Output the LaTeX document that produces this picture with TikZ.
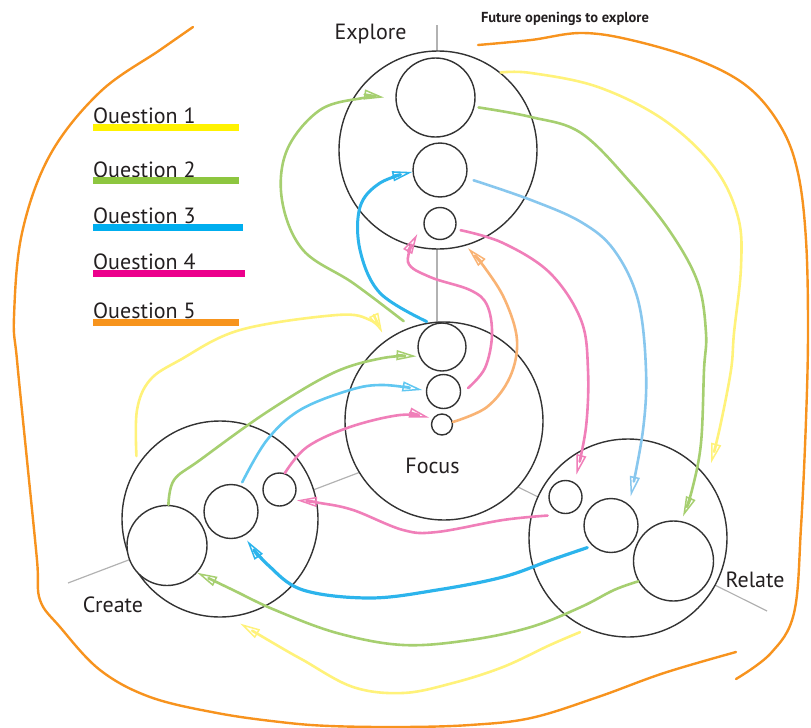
\documentclass[tikz,border=0pt]{standalone}
\usepackage{fontspec}
\setmainfont{PT Sans}
\usetikzlibrary{arrows.meta,calc}
\definecolor{qyel}{HTML}{FFF200}
\definecolor{qgrn}{HTML}{8DC63F}
\definecolor{qblu}{HTML}{00AEEF}
\definecolor{qmag}{HTML}{EC008C}
\definecolor{qora}{HTML}{F7941D}
\definecolor{cyel}{HTML}{FFF27A}
\definecolor{cgrn}{HTML}{A6CF70}
\definecolor{cblu}{HTML}{2CB4EC}
\definecolor{cbll}{HTML}{88C7EE}
\definecolor{cpnk}{HTML}{F07FB9}
\definecolor{cora}{HTML}{F7931E}
\definecolor{corl}{HTML}{F9B374}
\definecolor{txt}{HTML}{231F20}
\begin{document}
\begin{tikzpicture}[x=1pt,y=-1pt,
  ring/.style={circle,draw=black!80,line width=1.4pt,fill=white,inner sep=0pt,minimum size=#1},
  gline/.style={draw=black!30,line width=1.2pt},
  qline/.style={line width=2.6pt,line cap=round,line join=round},
  arr/.style={-{Triangle[open,length=20pt,width=10pt,line width=1.5pt]}},
  lbl/.style={text=txt,font=\fontsize{22}{25}\selectfont,inner sep=0pt},
  qlbl/.style={text=txt,font=\fontsize{22}{25}\selectfont,inner sep=0pt,anchor=base west},
  bar/.style={line width=7pt}]
\useasboundingbox (0,0) rectangle (811,728);

% axes
\coordinate (ax1) at (437,25);
\coordinate (ax2) at (437,360);
\coordinate (ac1) at (68,583);
\coordinate (ac2) at (400,457);
\coordinate (ar1) at (767,611);
\coordinate (ar2) at (500,478);
\draw[gline] (ax1) -- (ax2);
\draw[gline] (ac1) -- (ac2);
\draw[gline] (ar1) -- (ar2);

% circles
\node[ring=198pt] (E) at (438,150) {};
\node[ring=79pt] (E1) at (435.5,97.5) {};
\node[ring=54pt] (E2) at (440,170) {};
\node[ring=32pt] (E3) at (440,223.5) {};
\node[ring=198pt] (F) at (444,421) {};
\node[ring=48pt] (F1) at (442,347) {};
\node[ring=34pt] (F2) at (443.5,391.5) {};
\node[ring=21pt] (F3) at (442,424.5) {};
\node[ring=196pt] (C) at (220,519) {};
\node[ring=80pt] (C1) at (167,545.5) {};
\node[ring=54pt] (C2) at (231,511.5) {};
\node[ring=33pt] (C3) at (279.5,489.5) {};
\node[ring=198pt] (R) at (628,538) {};
\node[ring=33pt] (R3) at (565.5,497) {};
\node[ring=54pt] (R2) at (611,525.5) {};
\node[ring=80pt] (R1) at (673.5,561) {};

% outer orange outline
\draw[qline,cora,line width=2.4pt] plot[smooth,tension=0.6] coordinates {(478,45) (531,40) (581,33) (631,40) (698,60) (748,87) (781,127) (798,173) (806,240) (808,330) (806,420) (801,527) (794,613) (771,653) (736,679)};
\draw[qline,cora,line width=2.4pt] plot[smooth,tension=0.6] coordinates {(736,652) (664,673) (598,697) (531,718) (470,725) (403,727) (330,726) (280,722) (217,713) (150,697) (100,670) (60,627) (40,600) (37,560) (27,460) (17,360) (14,317) (22,233) (50,155) (100,92) (160,50) (193,27)};

% Question 1 (yellow)
\draw[qline,cyel,arr] plot[smooth,tension=0.6] coordinates {(E.51) (531,73) (598,87) (664,120) (714,167) (738,217) (741,267) (734,333) (731,370) (720,427) ($(R.center)!1.12!(R.42)$)};
\draw[qline,cyel,arr] plot[smooth,tension=0.6] coordinates {($(C.center)!1.06!(C.143)$) (137,410) (150,380) (180,360) (240,330) (337,315) (370,320) ($(F.center)!1.08!(F.125)$)};
\draw[qline,cyel,arr] plot[smooth,tension=0.6] coordinates {($(R.center)!1.06!(R.243)$) (550,645) (503,667) (453,683) (403,693) (353,687) (303,660) (280,647) ($(C.center)!1.08!(C.-79)$)};

% Question 2 (green)
\draw[qline,cgrn,arr] plot[smooth,tension=0.6] coordinates {($(E1.center)!1.1!(E1.-13)$) (531,117) (581,133) (631,183) (671,233) (698,283) (706,333) (704,370) (701,443) (692,490) ($(R1.center)!1.12!(R1.78)$)};
\draw[qline,cgrn,arr] plot[smooth,tension=0.6] coordinates {($(F.center)!1.08!(F.112)$) (353,283) (303,250) (282,200) (287,150) (320,110) (363,98) ($(E1.center)!1.28!(E1.180)$)};
\draw[qline,cgrn,arr] plot[smooth,tension=0.6] coordinates {(C1.88) (174,480) (200,460) (267,412) (333,373) (383,358) ($(F1.center)!1.1!(F1.200)$)};
\draw[qline,cgrn,arr] plot[smooth,tension=0.6] coordinates {(R1.210) (614,590) (581,607) (531,627) (470,640) (403,645) (337,633) (275,610) (233,590) (C1.-42)};

% Question 3 (blue)
\draw[qline,cbll,arr] plot[smooth,tension=0.6] coordinates {($(E2.center)!1.27!(E2.-17)$) (531,200) (581,222) (614,250) (638,300) (646,370) (643,430) ($(R2.center)!1.27!(R2.56)$)};
\draw[qline,cblu,arr,line width=3pt] plot[smooth,tension=0.6] coordinates {($(F1.center)!1.2!(F1.121)$) (380,293) (360,250) (360,207) (380,183) (E2.184)};
\draw[qline,cblu!75,arr] plot[smooth,tension=0.6] coordinates {($(C2.center)!1.13!(C2.69)$) (267,440) (300,410) (350,390) (383,385) ($(F2.center)!1.2!(F2.176)$)};
\draw[qline,cblu,arr,line width=3.2pt] plot[smooth,tension=0.6] coordinates {($(R2.center)!1.17!(R2.223)$) (551,560) (503,577) (437,590) (370,598) (303,590) (268,565) ($(C2.center)!1.2!(C2.-61)$)};

% Question 4 (pink)
\draw[qline,cpnk,arr] plot[smooth,tension=0.6] coordinates {($(E3.center)!1.3!(E3.-18)$) (503,243) (550,273) (581,320) (588,370) (586,427) ($(R3.center)!1.45!(R3.64)$)};
\draw[qline,cpnk,arr] plot[smooth,tension=0.6] coordinates {($(F2.center)!1.4!(F2.8)$) (485,368) (492,335) (487,305) (470,290) (430,277) (408,262) ($(E3.center)!1.5!(E3.205)$)};
\draw[qline,cpnk,arr] plot[smooth,tension=0.6] coordinates {(C3.72) (307,447) (350,427) (400,415) ($(F3.center)!1.3!(F3.152)$)};
\draw[qline,cpnk,arr] plot[smooth,tension=0.6] coordinates {($(R3.center)!1.5!(R3.226)$) (503,520) (437,532) (403,530) (353,510) (320,503) ($(C3.center)!1.19!(C3.-32)$)};

% Question 5 (orange)
\draw[qline,corl,arr] plot[smooth,tension=0.6] coordinates {(F3.13) (487,407) (510,377) (517,340) (505,300) (485,268) ($(E.center)!1.03!(E.-73)$)};

% legend
\node[qlbl] (q1) at (93,123) {Question 1};
\node[qlbl] (q2) at (93,177) {Question 2};
\node[qlbl] (q3) at (93,223) {Question 3};
\node[qlbl] (q4) at (93,269) {Question 4};
\node[qlbl] (q5) at (93,318) {Question 5};
\draw[bar,qyel] (93,127) -- (239,127);
\draw[bar,qgrn] (93,180.5) -- (239,180.5);
\draw[bar,qblu] (93,227) -- (243,227);
\draw[bar,qmag] (93,273) -- (245,273);
\draw[bar,qora] (93,322) -- (239,322);

% labels
\node[lbl,anchor=base] (lE) at (370.5,39) {Explore};
\node[lbl,anchor=base] (lF) at (432.5,473) {Focus};
\node[lbl,anchor=base] (lC) at (113,612) {Create};
\node[lbl,anchor=base] (lR) at (755,587) {Relate};
\node[text=txt,font=\bfseries\fontsize{14.5}{16}\selectfont,inner sep=0pt,anchor=base] (lfut) at (565,22) {Future openings to explore};
\end{tikzpicture}
\end{document}
